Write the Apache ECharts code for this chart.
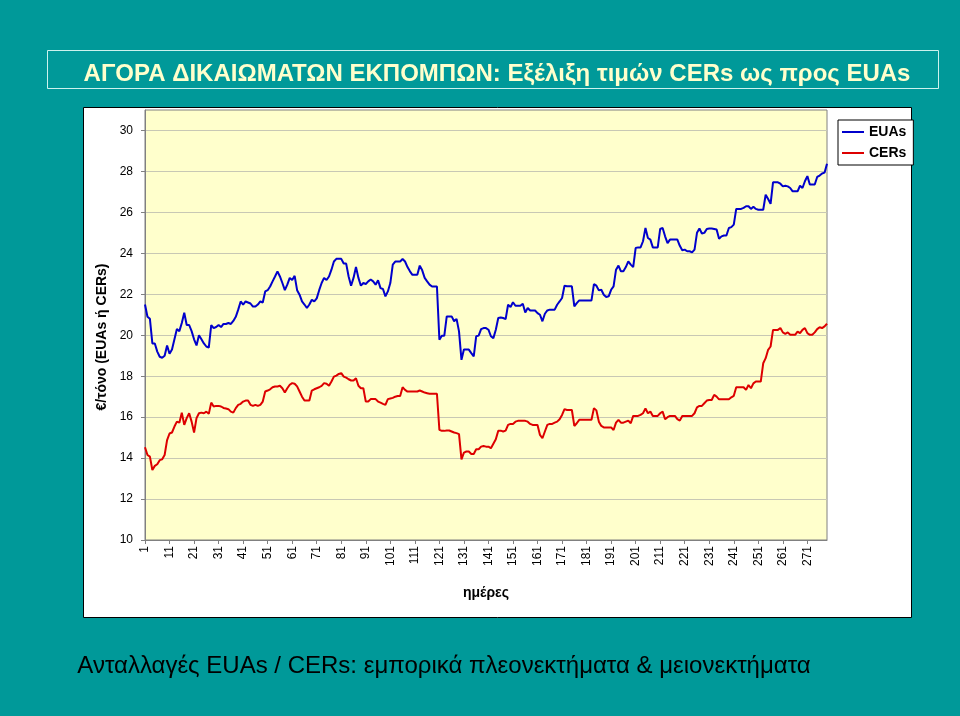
<!DOCTYPE html>
<html>
<head>
<meta charset="utf-8">
<script src="https://cdn.jsdelivr.net/npm/echarts@6/dist/echarts.min.js"></script>
<style>
html,body{margin:0;padding:0;background:#009999;}
#c{width:960px;height:716px;}
</style>
</head>
<body>
<div id="c"></div>
<script>
var euas = [
21.5,20.9,20.8,19.6,19.6,19.2,18.95,18.9,19.0,19.5,19.1,19.3,19.8,20.3,20.2,20.6,21.1,20.5,20.5,20.2,
19.8,19.5,20.0,19.8,19.6,19.45,19.4,20.5,20.35,20.4,20.5,20.4,20.55,20.55,20.6,20.55,20.7,20.9,21.25,21.65,
21.5,21.65,21.6,21.55,21.4,21.4,21.5,21.65,21.6,22.14,22.2,22.38,22.63,22.87,23.12,22.87,22.55,22.2,22.47,22.8,
22.7,22.9,22.2,21.98,21.65,21.5,21.33,21.5,21.73,21.65,21.8,22.2,22.55,22.8,22.7,22.87,23.2,23.6,23.73,23.73,
23.73,23.5,23.5,22.87,22.42,22.8,23.33,22.8,22.42,22.55,22.5,22.63,22.72,22.63,22.47,22.68,22.3,22.26,21.9,22.14,
22.55,23.45,23.6,23.6,23.6,23.72,23.6,23.33,23.12,22.95,22.95,22.95,23.4,23.17,22.8,22.63,22.47,22.38,22.38,22.38,
19.78,19.98,19.98,20.92,20.92,20.92,20.68,20.8,20.19,18.8,19.3,19.3,19.3,19.13,18.97,19.95,19.98,20.3,20.35,20.35,
20.27,19.95,19.86,20.27,20.84,20.87,20.84,20.79,21.49,21.38,21.61,21.44,21.44,21.44,21.54,21.11,21.33,21.21,21.21,21.21,
21.08,21.0,20.68,21.05,21.21,21.25,21.25,21.25,21.49,21.65,21.82,22.42,22.39,22.39,22.39,21.41,21.57,21.7,21.7,21.7,
21.7,21.7,21.7,22.5,22.42,22.19,22.22,21.98,21.87,21.9,22.22,22.39,23.2,23.4,23.12,23.12,23.33,23.61,23.45,23.33,
24.26,24.29,24.29,24.59,25.24,24.75,24.67,24.29,24.29,24.29,25.19,25.24,24.83,24.5,24.67,24.67,24.67,24.67,24.37,24.15,
24.18,24.1,24.1,24.05,24.18,25.0,25.21,24.97,25.0,25.19,25.21,25.21,25.19,25.16,24.71,24.83,24.87,24.87,25.24,25.28,
25.4,26.17,26.17,26.17,26.22,26.3,26.3,26.17,26.27,26.17,26.13,26.13,26.13,26.86,26.65,26.42,27.47,27.47,27.47,27.4,
27.27,27.3,27.27,27.19,27.03,27.03,27.03,27.3,27.19,27.52,27.77,27.36,27.36,27.36,27.73,27.8,27.9,27.94,28.38
];
var cers = [
14.53,14.15,14.07,13.42,13.62,13.7,13.9,13.94,14.15,14.88,15.2,15.25,15.54,15.78,15.73,16.22,15.62,15.95,16.19,15.78,
15.25,15.95,16.19,16.22,16.19,16.27,16.16,16.71,16.52,16.55,16.55,16.52,16.45,16.42,16.39,16.27,16.22,16.44,16.6,16.65,
16.76,16.81,16.81,16.6,16.55,16.6,16.55,16.6,16.76,17.25,17.3,17.36,17.46,17.5,17.5,17.53,17.41,17.2,17.41,17.58,
17.66,17.63,17.5,17.25,17.0,16.81,16.81,16.81,17.3,17.36,17.41,17.46,17.53,17.66,17.63,17.53,17.74,17.98,18.03,18.11,
18.15,17.98,17.93,17.85,17.79,17.79,17.9,17.53,17.41,17.41,16.76,16.76,16.88,16.88,16.88,16.76,16.71,16.65,16.6,16.88,
16.91,16.94,17.0,17.03,17.03,17.46,17.33,17.25,17.25,17.25,17.25,17.25,17.3,17.25,17.2,17.17,17.14,17.14,17.14,17.14,
15.38,15.33,15.33,15.35,15.35,15.3,15.25,15.22,15.17,13.94,14.27,14.32,14.32,14.2,14.2,14.43,14.43,14.56,14.59,14.56,
14.56,14.48,14.7,14.92,15.34,15.34,15.3,15.34,15.62,15.67,15.67,15.78,15.82,15.82,15.82,15.82,15.78,15.67,15.62,15.62,
15.62,15.13,14.97,15.3,15.62,15.67,15.67,15.73,15.78,15.9,16.11,16.39,16.35,16.35,16.35,15.57,15.7,15.87,15.87,15.87,
15.87,15.87,15.87,16.44,16.33,15.78,15.57,15.5,15.5,15.5,15.5,15.37,15.73,15.87,15.73,15.73,15.78,15.83,15.7,16.06,
16.06,16.06,16.11,16.19,16.43,16.19,16.27,16.06,16.06,16.06,16.19,16.27,15.9,16.0,16.06,16.06,16.06,15.9,15.83,16.06,
16.06,16.06,16.06,16.06,16.19,16.48,16.55,16.55,16.68,16.81,16.84,16.84,17.09,17.0,16.87,16.87,16.87,16.87,16.87,16.97,
17.04,17.46,17.46,17.46,17.46,17.33,17.57,17.41,17.65,17.74,17.74,17.74,18.63,18.88,19.29,19.45,20.26,20.26,20.26,20.35,
20.14,20.07,20.14,20.02,20.02,20.02,20.18,20.1,20.26,20.35,20.1,20.02,20.02,20.14,20.3,20.39,20.35,20.43,20.56
];
var days = euas.map(function(_, i){ return String(i + 1); });
var yTicks = {min: 10, max: 31, step: 2};
var seriesNames = ['EUAs', 'CERs'];
var titleText = 'ΑΓΟΡΑ ΔΙΚΑΙΩΜΑΤΩΝ ΕΚΠΟΜΠΩΝ: Εξέλιξη τιμών CERs ως προς EUAs';
var footerText = 'Ανταλλαγές EUAs / CERs: εμπορικά πλεονεκτήματα & μειονεκτήματα';
var yName = '€/τόνο (EUAs ή CERs)';
var xName = 'ημέρες';

var chart = echarts.init(document.getElementById('c'), null, {renderer: 'canvas'});
var font = 'Liberation Sans, Arial, sans-serif';
chart.setOption({
  backgroundColor: '#009999',
  animation: false,
  graphic: [
    {type: 'rect', z: -10, shape: {x: 47.5, y: 50.5, width: 891, height: 38},
     style: {fill: 'none', stroke: '#CCF2EE', lineWidth: 1}},
    {type: 'rect', z: -10, shape: {x: 83.5, y: 107.5, width: 828, height: 510},
     style: {fill: '#ffffff', stroke: '#000000', lineWidth: 1}}
  ],
  title: [
    {text: titleText, left: 492, textAlign: 'center', top: 57,
     textStyle: {color: '#FFFFCC', fontFamily: 'Liberation Sans Narrow, Arial Narrow, Liberation Sans, Arial', fontWeight: 'bold', fontSize: 24}},
    {text: footerText, left: 439, textAlign: 'center', top: 649,
     textStyle: {color: '#000000', fontFamily: font, fontWeight: 'normal', fontSize: 24}}
  ],
  legend: {
    orient: 'vertical', left: 838, top: 120,
    backgroundColor: '#ffffff', borderColor: '#000000', borderWidth: 1,
    padding: [5, 7, 5, 4], itemGap: 7, itemWidth: 22, itemHeight: 2,
    icon: 'rect',
    textStyle: {fontFamily: font, fontWeight: 'bold', fontSize: 14, color: '#000'},
    data: seriesNames
  },
  grid: {left: 145, right: 133, top: 110, bottom: 176, show: true,
         backgroundColor: '#FFFFCC', borderColor: '#808080', borderWidth: 1},
  xAxis: {
    type: 'category', data: days, boundaryGap: false,
    name: xName, nameLocation: 'middle', nameGap: 46,
    nameTextStyle: {fontFamily: font, fontWeight: 'bold', fontSize: 14, color: '#000'},
    axisLine: {lineStyle: {color: '#808080'}},
    axisTick: {show: true, interval: 9, length: 4, lineStyle: {color: '#808080'}},
    axisLabel: {interval: 9, rotate: 90, fontFamily: font, fontSize: 12, color: '#000', margin: 6},
    splitLine: {show: false}
  },
  yAxis: {
    type: 'value', min: yTicks.min, max: yTicks.max, interval: yTicks.step,
    name: yName, nameLocation: 'middle', nameGap: 35, nameRotate: 90,
    nameTextStyle: {fontFamily: font, fontWeight: 'bold', fontSize: 14, color: '#000', padding: [0, 24, 0, 0]},
    axisLine: {show: true, lineStyle: {color: '#808080'}},
    axisTick: {show: true, length: 4, lineStyle: {color: '#808080'}},
    axisLabel: {fontFamily: font, fontSize: 12, color: '#000', margin: 12, showMaxLabel: false},
    splitLine: {showMaxLine: false, lineStyle: {color: '#C8C8B4', width: 1}}
  },
  series: [
    {name: seriesNames[0], type: 'line', data: euas, showSymbol: false, symbol: 'none',
     lineStyle: {color: '#0000CC', width: 2}, itemStyle: {color: '#0000CC'}},
    {name: seriesNames[1], type: 'line', data: cers, showSymbol: false, symbol: 'none',
     lineStyle: {color: '#DD0000', width: 2}, itemStyle: {color: '#DD0000'}}
  ]
});
</script>
</body>
</html>
